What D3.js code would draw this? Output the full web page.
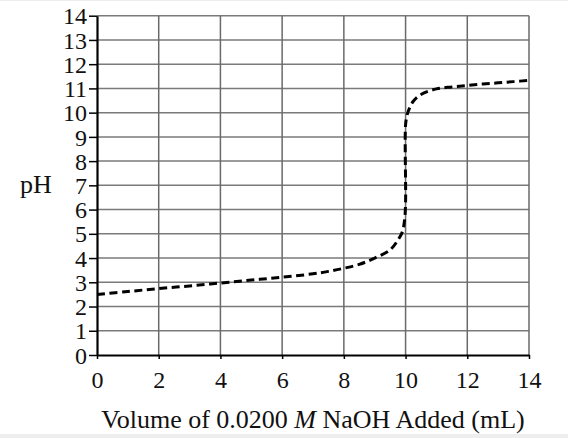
<!DOCTYPE html>
<html>
<head>
<meta charset="utf-8">
<script src="https://cdn.jsdelivr.net/npm/d3@7"></script>
<style>
  html, body { margin: 0; padding: 0; background: #fff; }
  svg { display: block; }
  text { font-family: "Liberation Serif", "Times New Roman", serif; fill: #111; }
</style>
</head>
<body>
<script>
// titration curve
var volume = [0, 1, 2, 3, 4, 5, 6, 7, 7.5, 8, 8.5, 9, 9.5, 9.75, 9.9, 9.97, 10, 10, 10.05, 10.1, 10.25, 10.5, 11, 11.5, 12, 12.5, 13, 13.5, 14];
var pH = [2.5, 2.62, 2.74, 2.85, 2.97, 3.09, 3.21, 3.35, 3.45, 3.58, 3.74, 4.0, 4.34, 4.74, 5.1, 5.6, 6.3, 9.5, 9.9, 10.1, 10.47, 10.75, 10.98, 11.06, 11.12, 11.18, 11.23, 11.28, 11.33];
var xTicks = [0, 2, 4, 6, 8, 10, 12, 14];
var yTicks = [0, 1, 2, 3, 4, 5, 6, 7, 8, 9, 10, 11, 12, 13, 14];

var W = 568, H = 438;
var margin = {top: 15.7, right: 39, bottom: 83, left: 97},
    width = W - margin.left - margin.right,
    height = H - margin.top - margin.bottom;

var root = d3.select("body").append("svg")
    .attr("width", W)
    .attr("height", H);

// light grey strips at the page edges
root.append("rect").attr("x", 0).attr("y", 0).attr("width", W).attr("height", 1).attr("fill", "#eeeeee");
root.append("rect").attr("x", 0).attr("y", 434).attr("width", W).attr("height", 4).attr("fill", "#eeeeee");

var svg = root.append("g")
    .attr("transform", "translate(" + margin.left + "," + margin.top + ")");

var x = d3.scaleLinear().domain([0, 14]).range([0, width]);
var y = d3.scaleLinear().domain([0, 14]).range([height, 0]);

// grid
svg.append("g").selectAll("line")
    .data(yTicks.slice(1))
    .enter().append("line")
    .attr("x1", 0).attr("x2", width)
    .attr("y1", function(d) { return y(d); })
    .attr("y2", function(d) { return y(d); })
    .attr("stroke", "#7a7a7a")
    .attr("stroke-width", 1.5);

svg.append("g").selectAll("line")
    .data(xTicks.slice(1))
    .enter().append("line")
    .attr("y1", 0).attr("y2", height)
    .attr("x1", function(d) { return x(d); })
    .attr("x2", function(d) { return x(d); })
    .attr("stroke", "#6a6a6a")
    .attr("stroke-width", 1.5);

// axes
var xAxis = svg.append("g")
    .attr("transform", "translate(0," + height + ")")
    .call(d3.axisBottom(x).tickValues(xTicks).tickSize(4).tickSizeOuter(0).tickPadding(12));
var yAxis = svg.append("g")
    .call(d3.axisLeft(y).tickValues(yTicks).tickSize(8).tickSizeOuter(0).tickPadding(2));

[xAxis, yAxis].forEach(function(a) {
  a.select(".domain").attr("stroke", "#000").attr("stroke-width", 2.2);
  a.selectAll(".tick line").attr("stroke", "#000").attr("stroke-width", 1.5);
  a.selectAll(".tick text")
    .attr("fill", "#111")
    .style("font-family", "'Liberation Serif', 'Times New Roman', serif")
    .style("font-size", "24px");
});
yAxis.selectAll(".tick text").attr("dy", "0.34em");

// the curve
var pts = volume.map(function(v, i) { return {x: v, y: pH[i]}; });
var line = d3.line()
    .x(function(d) { return x(d.x); })
    .y(function(d) { return y(d.y); })
    .curve(d3.curveCatmullRom.alpha(0.5));

svg.append("path")
    .datum(pts)
    .attr("fill", "none")
    .attr("stroke", "#000")
    .attr("stroke-width", 3)
    .attr("stroke-dasharray", "8,4.5")
    .attr("d", line);

// labels
root.append("text")
    .attr("x", 20).attr("y", 193)
    .style("font-size", "26px")
    .text("pH");

var t = root.append("text")
    .attr("x", margin.left + width / 2).attr("y", 428)
    .attr("text-anchor", "middle")
    .style("font-size", "26px");
t.append("tspan").text("Volume of 0.0200 ");
t.append("tspan").style("font-style", "italic").text("M");
t.append("tspan").text(" NaOH Added (mL)");
</script>
</body>
</html>
